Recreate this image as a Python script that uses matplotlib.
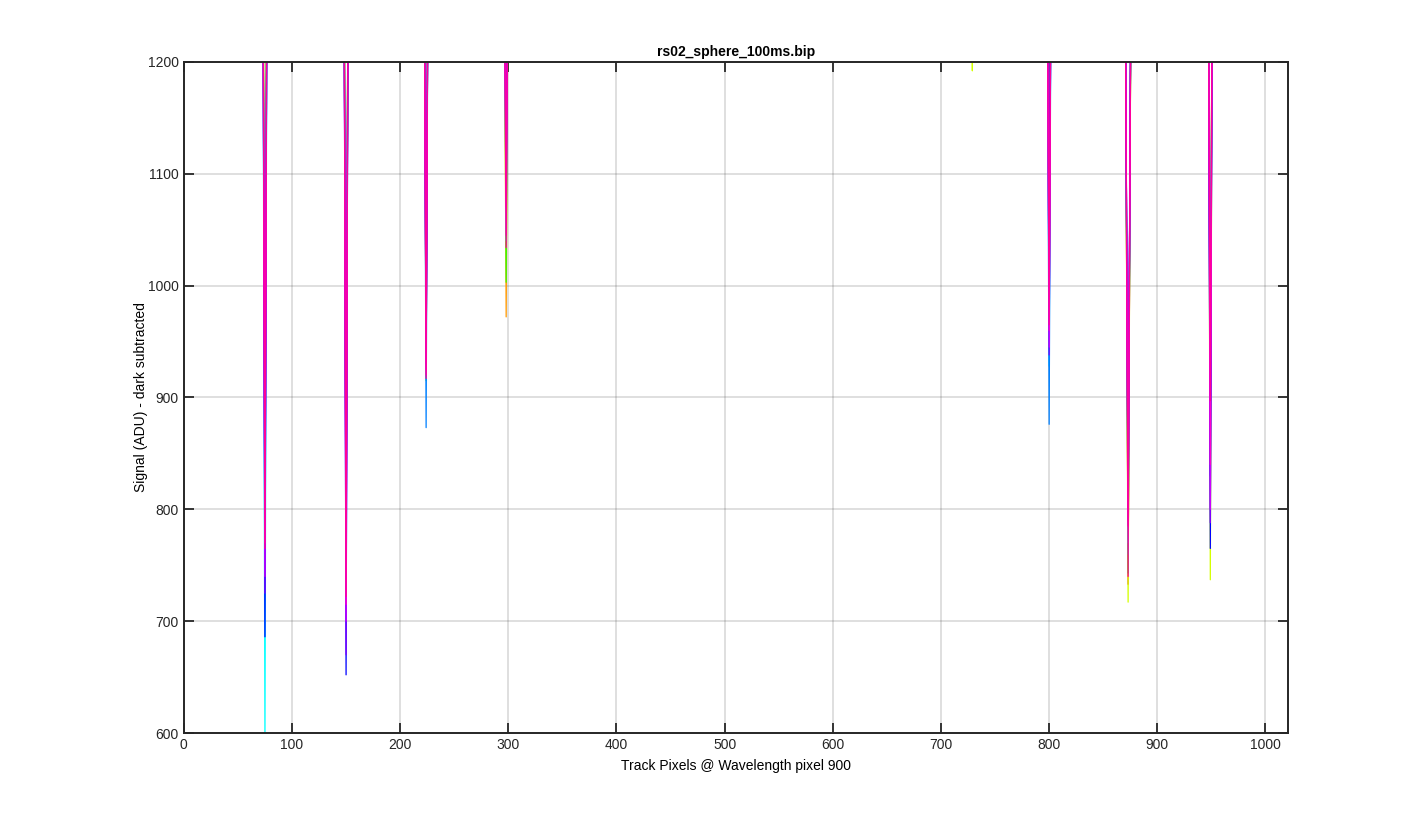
import numpy as np
from matplotlib import pyplot as plt

# dip centres (track pixel) and the half width of each dip profile
dip_centres = [75, 150, 224, 298, 729, 800, 873, 949]
dip_halfwidth = [2, 2, 2, 2, 1, 2, 3, 2]
shoulder = 1350  # signal level either side of a dip (off the top of the plot)
track_end = 1023

series_colors = ["#ff0030", "#ff9900", "#d4ff00", "#33ff00", "#00ff99", "#00ffff",
                 "#0080ff", "#0000ff", "#8000ff", "#cc00ff", "#ff00cc", "#ff0099"]

# minimum signal of each series at each dip
red = [860, 760, 980, 1120, 1400, 1000, 733, 880]
orange = [880, 780, 990, 972, 1400, 1020, 790, 900]
chartreuse = [900, 800, 1010, 1060, 1192, 1040, 717, 737]
green = [870, 790, 915, 1003, 1400, 990, 743, 880]
spring = [850, 770, 960, 1040, 1400, 960, 760, 870]
cyan = [590, 740, 950, 1050, 1400, 928, 770, 860]
azure = [760, 735, 873, 1080, 1400, 876, 786, 830]
blue = [686, 652, 940, 1100, 1400, 1080, 800, 765]
violet = [725, 670, 930, 1090, 1400, 938, 790, 788]
purple = [740, 700, 925, 1070, 1400, 945, 800, 800]
magenta = [770, 715, 920, 1045, 1400, 960, 785, 840]
rose = [765, 722, 917, 1034, 1400, 965, 740, 897]
minima = [red, orange, chartreuse, green, spring, cyan, azure, blue, violet, purple, magenta, rose]


def profile(mins):
    xs, ys = [0], [shoulder]
    for c, w, m in zip(dip_centres, dip_halfwidth, mins):
        xs += [c - w, c, c + w]
        ys += [shoulder, m, shoulder]
    xs.append(track_end)
    ys.append(shoulder)
    return xs, ys


plt.rcParams["font.family"] = ["Liberation Sans", "DejaVu Sans"]
fig = plt.figure(figsize=(14.25, 8.25), dpi=100)
ax = fig.add_axes([0.129, 0.1115, 0.775, 0.8135])

for mins, col in zip(minima, series_colors):
    xs, ys = profile(mins)
    ax.plot(xs, ys, color=col, lw=0.9)

ax.set_xlim(0, 1021)
ax.set_ylim(600, 1200)
ax.set_xticks(range(0, 1001, 100))
ax.set_yticks(range(600, 1201, 100))
ax.grid(True, color="#262626", alpha=0.15, lw=1.4)
ax.tick_params(direction="in", top=True, right=True, length=7, width=1.3,
               labelsize=10, colors="#262626")
for s in ax.spines.values():
    s.set_linewidth(1.4)
    s.set_color("#262626")

ax.set_title("rs02_sphere_100ms.bip", fontsize=10, fontweight="bold", pad=4)
ax.set_xlabel("Track Pixels @ Wavelength pixel 900", fontsize=10, labelpad=5)
ax.set_ylabel("Signal (ADU) - dark subtracted", fontsize=10, labelpad=0)

fig.savefig("out.png", dpi=100)
